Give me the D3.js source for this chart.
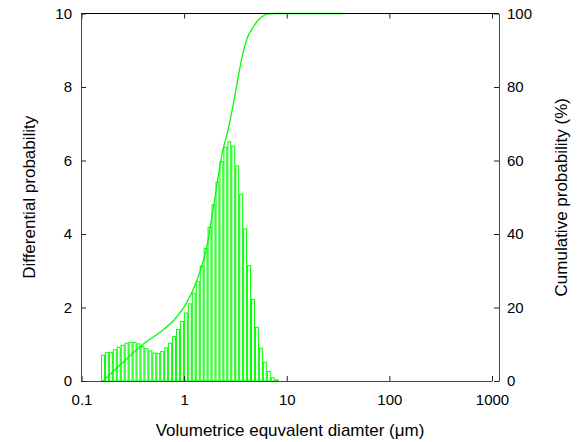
<!DOCTYPE html>
<html>
<head>
<meta charset="utf-8">
<script src="https://cdn.jsdelivr.net/npm/d3@7"></script>
<style>
  body { margin: 0; background: #fff; }
  text { font-family: "Liberation Sans", Arial, sans-serif; }
</style>
</head>
<body>
<div id="chart"></div>
<script>
// histogram bin edges (um), log spaced
const binEdges = [0.1549, 0.1693, 0.1849, 0.2020, 0.2207, 0.2412, 0.2635, 0.2879, 0.3146, 0.3437,
                  0.3755, 0.4103, 0.4483, 0.4898, 0.5352, 0.5848, 0.6389, 0.6982, 0.7628, 0.8334,
                  0.9107, 0.9951, 1.087, 1.188, 1.298, 1.418, 1.550, 1.693, 1.850, 2.021,
                  2.209, 2.413, 2.636, 2.881, 3.148, 3.439, 3.757, 4.106, 4.486, 4.901,
                  5.355, 5.851, 6.393, 6.985, 7.632, 8.339];
// differential probability per bin
const binValues = [0.70, 0.77, 0.78, 0.85, 0.92, 0.97, 1.03, 1.05, 1.05, 1.01,
                   0.94, 0.88, 0.82, 0.76, 0.75, 0.80, 0.90, 1.03, 1.21, 1.40,
                   1.62, 1.85, 2.10, 2.39, 2.71, 3.12, 3.61, 4.18, 4.79, 5.41,
                   5.97, 6.36, 6.51, 6.39, 5.85, 5.08, 4.14, 3.14, 2.22, 1.46,
                   0.89, 0.51, 0.26, 0.09, 0.03];
// cumulative curve
const cumSize = [0.162, 0.260, 0.425, 0.591, 0.797, 1.043, 1.28, 1.46, 1.64, 1.91,
                 2.39, 2.68, 3.00, 3.35, 3.67, 4.08, 4.73, 5.49, 6.62, 7.69, 35.4];
const cumPercent = [0, 5.4, 10.6, 13.4, 16.6, 21.0, 26.1, 30.7, 35.6, 46.5,
                    62.9, 68.3, 75.1, 82.4, 88.2, 93.0, 96.4, 98.7, 99.9, 100, 100];

const xTicks = [0.1, 1, 10, 100, 1000];
const yTicksLeft = [0, 2, 4, 6, 8, 10];
const yTicksRight = [0, 20, 40, 60, 80, 100];

const width = 581, height = 442;
const plotLeft = 81, plotRight = 499, plotTop = 13.5, plotBottom = 381;
const green = "#00ff00";

const svg = d3.select("#chart")
              .append("svg")
              .attr("width", width)
              .attr("height", height);

// Scales
const x = d3.scaleLog().domain([0.1, 1000]).range([81.5, 492]);
const y = d3.scaleLinear().domain([0, 10]).range([plotBottom, plotTop]);
const y2 = d3.scaleLinear().domain([0, 100]).range([plotBottom, plotTop]);

// Bars
const bins = binValues.map((v, i) => ({ x0: binEdges[i], x1: binEdges[i + 1], v: v }));
svg.append("g")
   .selectAll("rect")
   .data(bins)
   .enter()
   .append("rect")
   .attr("x", d => x(d.x0) + 0.5)
   .attr("width", d => x(d.x1) - x(d.x0) - 1)
   .attr("y", d => y(d.v))
   .attr("height", d => y(0) - y(d.v))
   .attr("fill", "none")
   .attr("stroke", green)
   .attr("stroke-width", 1);

// Cumulative curve
const line = d3.line()
               .x(d => x(d[0]))
               .y(d => y2(d[1]))
               .curve(d3.curveMonotoneX);
svg.append("path")
   .datum(cumSize.map((s, i) => [s, cumPercent[i]]))
   .attr("d", line)
   .attr("fill", "none")
   .attr("stroke", green)
   .attr("stroke-width", 1.3);

// Axes
const fmt = d => d;
svg.append("g")
   .attr("transform", `translate(0,${plotBottom})`)
   .call(d3.axisBottom(x).tickValues(xTicks).tickFormat(fmt).tickSizeInner(-5).tickSizeOuter(0).tickPadding(13));

const topAxis = svg.append("g")
   .attr("transform", `translate(0,${plotTop})`)
   .call(d3.axisTop(x).tickValues(xTicks).tickFormat("").tickSizeInner(-5).tickSizeOuter(0));
topAxis.select(".domain").remove();
svg.append("line")
   .attr("x1", plotLeft).attr("x2", plotRight)
   .attr("y1", plotTop).attr("y2", plotTop)
   .attr("stroke", "#000");

svg.append("g")
   .attr("transform", `translate(${plotLeft},0)`)
   .call(d3.axisLeft(y).tickValues(yTicksLeft).tickFormat(fmt).tickSizeInner(-5).tickSizeOuter(0).tickPadding(9));

svg.append("g")
   .attr("transform", `translate(${plotRight},0)`)
   .call(d3.axisRight(y2).tickValues(yTicksRight).tickFormat(fmt).tickSizeInner(-5).tickSizeOuter(0).tickPadding(8));

svg.selectAll(".domain").attr("stroke", "#444");
svg.selectAll(".tick line").attr("stroke", "#222");
svg.selectAll(".tick text").style("font-size", "15px").attr("fill", "#000");

// Titles
svg.append("text")
   .attr("x", (plotLeft + plotRight) / 2)
   .attr("y", 436)
   .attr("text-anchor", "middle")
   .style("font-size", "17px")
   .text("Volumetrice equvalent diamter (\u03bcm)");

svg.append("text")
   .attr("transform", `translate(35,${(plotTop + plotBottom) / 2}) rotate(-90)`)
   .attr("text-anchor", "middle")
   .style("font-size", "17px")
   .text("Differential probability");

svg.append("text")
   .attr("transform", `translate(567,${(plotTop + plotBottom) / 2}) rotate(-90)`)
   .attr("text-anchor", "middle")
   .style("font-size", "17px")
   .text("Cumulative probability (%)");
</script>
</body>
</html>
